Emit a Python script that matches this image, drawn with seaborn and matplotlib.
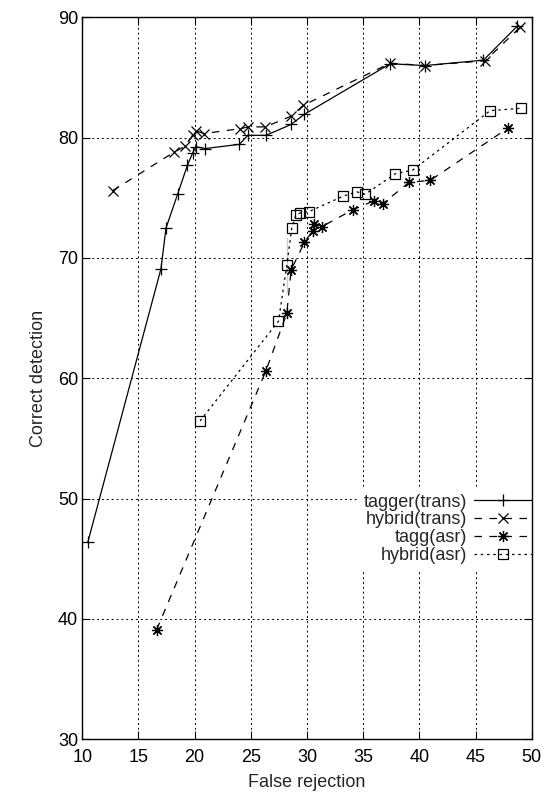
import matplotlib
matplotlib.use("Agg")
import matplotlib.pyplot as plt
import seaborn as sns

# ── Datos ────────────────────────────────────────────────
tagger_trans_x = [10.5, 17.0, 17.45, 18.5, 19.35, 19.83, 20.1, 20.93, 23.98,
                  24.73, 26.36, 28.57, 29.77, 37.4, 40.5, 45.7, 48.68]
tagger_trans_y = [46.4, 69.1, 72.5, 75.35, 77.7, 78.75, 79.25, 79.1, 79.45,
                  80.2, 80.2, 81.1, 81.95, 86.15, 86.0, 86.45, 89.25]

hybrid_trans_x = [12.7, 18.17, 19.15, 19.83, 20.1, 20.84, 24.04, 24.78, 26.3,
                  28.6, 29.68, 37.4, 40.5, 45.86, 48.98]
hybrid_trans_y = [75.6, 78.8, 79.3, 80.2, 80.55, 80.35, 80.75, 80.9, 80.9,
                  81.8, 82.7, 86.2, 86.0, 86.4, 89.2]

tagg_asr_x = [16.62, 26.33, 28.2, 28.58, 29.77, 30.5, 30.6, 31.32, 34.05,
              35.95, 36.72, 39.1, 40.96, 47.88]
tagg_asr_y = [39.1, 60.6, 65.4, 69.0, 71.3, 72.25, 72.8, 72.6, 74.0,
              74.75, 74.5, 76.3, 76.45, 80.8]

hybrid_asr_x = [20.48, 27.46, 28.2, 28.2, 28.64, 29.0, 29.39, 30.16, 33.24,
                34.43, 35.17, 37.85, 39.39, 46.3, 49.04]
hybrid_asr_y = [56.45, 64.75, 67.05, 71.75, 72.5, 73.55, 73.75, 73.85, 75.15,
                75.5, 75.3, 77.0, 77.3, 82.25, 82.45]

x_ticks = [10, 15, 20, 25, 30, 35, 40, 45, 50]
y_ticks = [30, 40, 50, 60, 70, 80, 90]

# ── Estilo ───────────────────────────────────────────────
sns.set_style("ticks")
plt.rcParams["font.family"] = ["Liberation Sans", "DejaVu Sans"]

fig, ax = plt.subplots(figsize=(5.58, 7.93), dpi=100)
fig.subplots_adjust(left=0.1475, right=0.953, top=0.978, bottom=0.068)

series = [
    ("tagger(trans)", tagger_trans_x, tagger_trans_y,
     dict(marker="+", markersize=9, linestyle="-", mfc="black")),
    ("hybrid(trans)", hybrid_trans_x, hybrid_trans_y,
     dict(marker="x", markersize=7, linestyle=(0, (6, 6)), mfc="black")),
    ("tagg(asr)", tagg_asr_x, tagg_asr_y,
     dict(marker=(8, 2, 0), markersize=8, linestyle=(0, (6, 6)), mfc="black")),
    ("hybrid(asr)", hybrid_asr_x, hybrid_asr_y,
     dict(marker="s", markersize=6.5, linestyle=(0, (2, 3)), mfc="none")),
]

for label, xs, ys, st in series:
    sns.lineplot(x=xs, y=ys, ax=ax, sort=False, color="black", lw=0.9,
                 mec="black", mew=0.9, label=label, **st)

ax.set_xlim(10, 50)
ax.set_ylim(30, 90)
ax.set_xticks(x_ticks)
ax.set_yticks(y_ticks)
ax.grid(True, color="black", linestyle=(0, (2, 3)), linewidth=0.7)

ax.tick_params(direction="in", length=6, width=0.8, top=True, right=True,
               labelsize=13, colors="black")
ax.tick_params(axis="x", pad=7)
ax.tick_params(axis="y", pad=3)
for sp in ax.spines.values():
    sp.set_visible(True)
    sp.set_linewidth(1.0)
    sp.set_color("black")
    sp.set_zorder(6)

ax.set_xlabel("False rejection", fontsize=13, labelpad=6)
ax.set_ylabel("Correct detection", fontsize=13, labelpad=8)

leg = ax.legend(loc="upper right", bbox_to_anchor=(1.012, 0.3478),
                borderaxespad=0, markerfirst=False, handlelength=3.2,
                handletextpad=0.4, labelspacing=0.05, borderpad=0.3,
                frameon=True, fancybox=False, edgecolor="none",
                facecolor="white", framealpha=1, fontsize=13)

fig.savefig("out.png", dpi=100, facecolor="white")
plt.close(fig)
